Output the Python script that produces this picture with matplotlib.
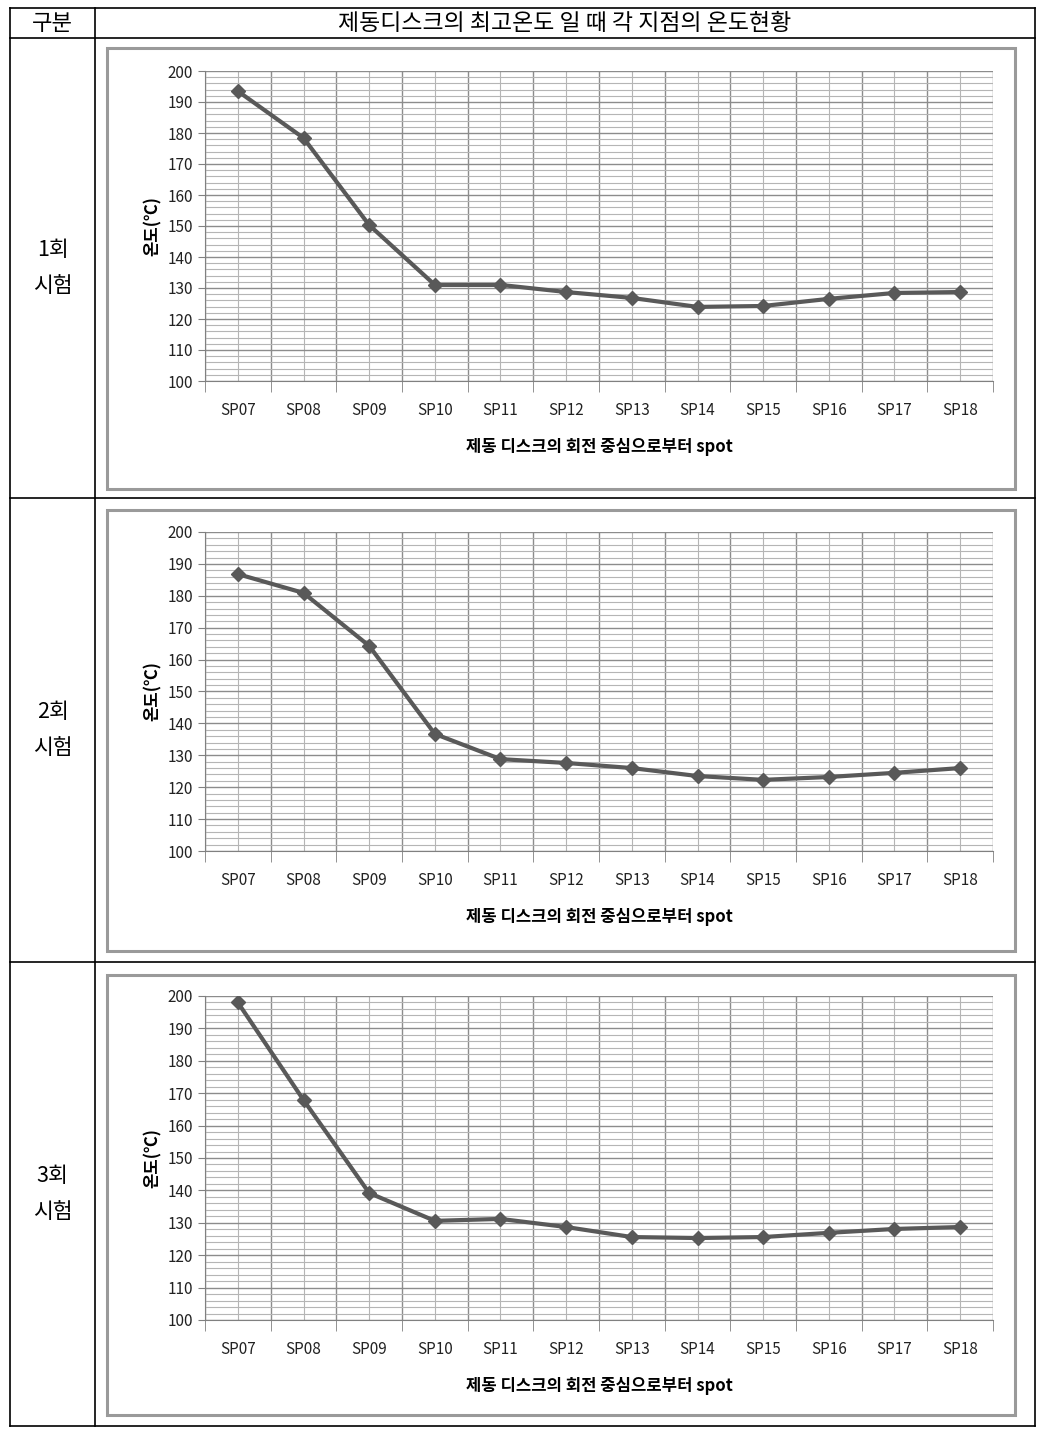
import numpy as np
import matplotlib.pyplot as plt
from matplotlib.patches import Rectangle
from matplotlib.ticker import MultipleLocator, FixedLocator

plt.rcParams['font.family'] = ['Noto Sans CJK KR', 'DejaVu Sans']

# data
spots = ['SP07', 'SP08', 'SP09', 'SP10', 'SP11', 'SP12',
         'SP13', 'SP14', 'SP15', 'SP16', 'SP17', 'SP18']
test1 = [193.5, 178.4, 150.3, 131.0, 131.0, 128.7, 126.8, 123.9, 124.2, 126.5, 128.4, 128.7]
test2 = [186.8, 180.9, 164.3, 136.7, 128.8, 127.6, 126.0, 123.5, 122.3, 123.2, 124.5, 126.0]
test3 = [198.0, 167.9, 139.2, 130.6, 131.2, 128.7, 125.6, 125.3, 125.6, 126.9, 128.1, 128.7]
row_labels = ['1회\n시험', '2회\n시험', '3회\n시험']
header = ['구분', '제동디스크의 최고온도 일 때 각 지점의 온도현황']
ylabel = '온도(℃)'
xlabel = '제동 디스크의 회전 중심으로부터 spot'

W, H = 1044, 1438
fig = plt.figure(figsize=(W / 100, H / 100), dpi=100)

# background axes in pixel coords for the table
bg = fig.add_axes([0, 0, 1, 1])
bg.set_xlim(0, W)
bg.set_ylim(H, 0)
bg.axis('off')

left, right, top, mid = 10, 1035, 8, 95
rows = [38, 498, 962, 1426]
for y in [top] + rows:
    bg.plot([left, right], [y, y], color='black', lw=1.2)
bg.plot([left, left], [top, rows[-1]], color='black', lw=1.2)
bg.plot([right, right], [top, rows[-1]], color='black', lw=1.2)
bg.plot([mid, mid], [top, rows[-1]], color='black', lw=1.2)

bg.text((left + mid) / 2, 23, header[0], ha='center', va='center', fontsize=16)
bg.text((mid + right) / 2, 23, header[1], ha='center', va='center', fontsize=16.5)

frames = [(48, 489), (510, 951), (975, 1415)]
plots = [(71, 381), (532, 851), (996, 1320)]
series = [test1, test2, test3]

def px2fig(x0, y0, x1, y1):
    return [x0 / W, 1 - y1 / H, (x1 - x0) / W, (y1 - y0) / H]

for i in range(3):
    f0, f1 = frames[i]
    bg.add_patch(Rectangle((107, f0), 1015 - 107, f1 - f0, fill=False,
                           edgecolor='#9a9a9a', lw=2.2))
    cy = (rows[i] + rows[i + 1]) / 2
    bg.text((left + mid) / 2, cy, row_labels[i], ha='center', va='center',
            fontsize=15.5, linespacing=1.85)

    p0, p1 = plots[i]
    ax = fig.add_axes(px2fig(205, p0, 993, p1))
    x = np.arange(len(spots))
    ax.plot(x, series[i], color='#595959', lw=3, marker='D', ms=7, zorder=5)
    ax.set_xlim(-0.5, len(spots) - 0.5)
    ax.set_ylim(100, 200)

    ax.set_xticks(x)
    ax.set_xticklabels(spots, fontsize=11)
    ax.xaxis.set_minor_locator(FixedLocator(np.arange(-0.5, len(spots), 1)))
    ax.tick_params(axis='x', which='major', length=0, pad=15, colors='#222222')
    ax.tick_params(axis='x', which='minor', length=8, color='#808080')
    ax.yaxis.set_major_locator(MultipleLocator(10))
    ax.yaxis.set_minor_locator(MultipleLocator(2))
    ax.tick_params(axis='y', which='major', length=5, color='#808080', labelsize=11,
                   colors='#222222')
    ax.tick_params(axis='y', which='minor', length=0)

    ax.grid(True, axis='y', which='major', color='#8c8c8c', lw=1)
    ax.grid(True, axis='y', which='minor', color='#b5b5b5', lw=0.8)
    ax.grid(True, axis='x', which='major', color='#b5b5b5', lw=0.8)
    ax.grid(True, axis='x', which='minor', color='#8c8c8c', lw=1)
    ax.set_axisbelow(True)

    for s in ['top', 'right']:
        ax.spines[s].set_visible(False)
    ax.spines['left'].set_color('#808080')
    ax.spines['bottom'].set_color('#808080')

    ax.set_ylabel(ylabel, fontsize=12, fontweight='bold', labelpad=4)
    ax.set_xlabel(xlabel, fontsize=12, fontweight='bold', labelpad=14)

fig.savefig('out.png', dpi=100)
